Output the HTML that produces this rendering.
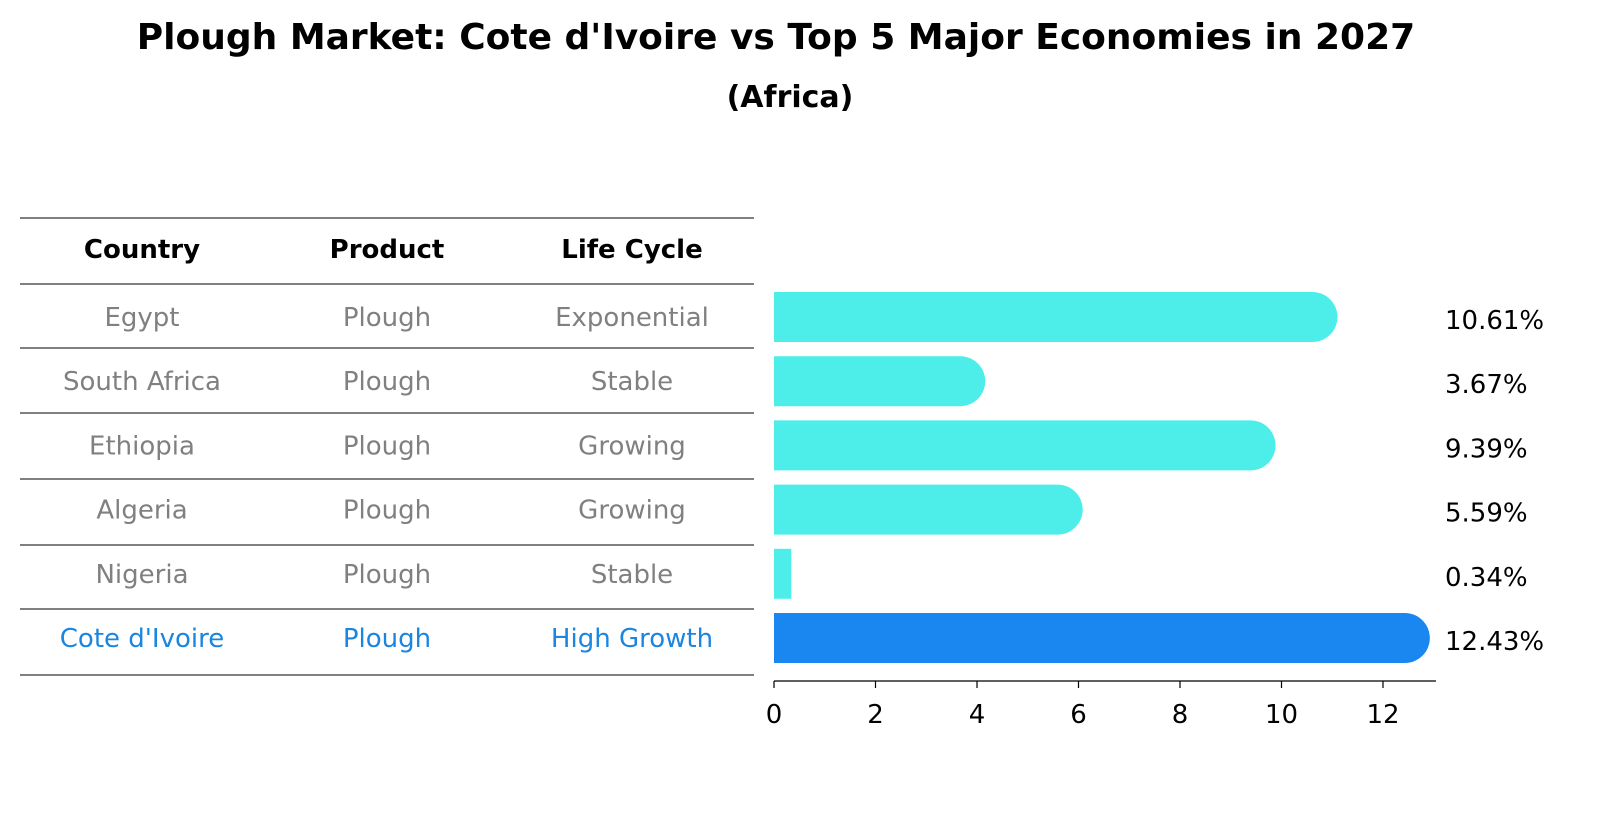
<!DOCTYPE html>
<html><head><meta charset="utf-8"><style>
body{margin:0;background:#fff;font-family:"Liberation Sans","DejaVu Sans",sans-serif;}
svg text{font-family:"DejaVu Sans","Liberation Sans",sans-serif;}
</style></head><body>
<svg id="c" width="1604" height="823" xmlns="http://www.w3.org/2000/svg">
<text x="776" y="49" text-anchor="middle" font-size="36" font-weight="bold">Plough Market: Cote d'Ivoire vs Top 5 Major Economies in 2027</text>
<text x="790" y="107" text-anchor="middle" font-size="30" font-weight="bold">(Africa)</text>
<g id="table"></g>
<g id="bars"></g>
</svg>
<script>
const countries=["Egypt","South Africa","Ethiopia","Algeria","Nigeria","Cote d'Ivoire"];
const products=["Plough","Plough","Plough","Plough","Plough","Plough"];
const lifeCycles=["Exponential","Stable","Growing","Growing","Stable","High Growth"];
const values=[10.61,3.67,9.39,5.59,0.34,12.43];
const valueLabels=["10.61%","3.67%","9.39%","5.59%","0.34%","12.43%"];
const ticks=[0,2,4,6,8,10,12];

const NS="http://www.w3.org/2000/svg";
function mk(tag,attrs,parent,txt){const e=document.createElementNS(NS,tag);for(const k in attrs)e.setAttribute(k,attrs[k]);if(txt!==undefined)e.textContent=txt;parent.appendChild(e);return e;}
const x0=774,xs=(1383-774)/12;
const X=v=>x0+v*xs;
const rowY=i=>317+i*64.2;
const tbl=document.getElementById('table'),bars=document.getElementById('bars');
const lineYs=[218,284,348,413,479,545,609,675];
lineYs.forEach(y=>{const l=mk('line',{x1:20,x2:754,y1:y,y2:y,stroke:'#000','stroke-width':1},tbl);

});
const colX=[142,387,632];
["Country","Product","Life Cycle"].forEach((h,j)=>{const t=mk('text',{x:colX[j],y:258,'text-anchor':'middle','font-size':26,'font-weight':'bold'},tbl,h);

});
countries.forEach((c,i)=>{
 const last=i===countries.length-1;const col=last?'#1a86e0':'#808080';
 const y=rowY(i)+9;
 [c,products[i],lifeCycles[i]].forEach((v,j)=>{const t=mk('text',{x:colX[j],y:y,'text-anchor':'middle','font-size':26,fill:col},tbl,v);
 
 });
 const h=50,yt=rowY(i)-h/2,xe=X(values[i]);
 const color=last?'#1a86f0':'#4deee9';
 let p;
 if(xe-x0>h/2){p=mk('path',{d:`M${x0},${yt} H${xe} A${h/2},${h/2} 0 0 1 ${xe},${yt+h} H${x0} Z`,fill:color},bars);}
 else{p=mk('rect',{x:x0,y:yt,width:xe-x0,height:h,fill:color},bars);}
 
 
 const t=mk('text',{x:1445,y:rowY(i)+12,'font-size':26},bars,valueLabels[i]);
 
 
});
const ax=mk('line',{x1:x0,x2:1436,y1:681,y2:681,stroke:'#000','stroke-width':1.2},bars);


ticks.forEach(v=>{const l=mk('line',{x1:X(v),x2:X(v),y1:681,y2:688,stroke:'#000','stroke-width':1.2},bars);


const t=mk('text',{x:X(v),y:723,'text-anchor':'middle','font-size':26},bars,String(v));

});
</script>
</body></html>
